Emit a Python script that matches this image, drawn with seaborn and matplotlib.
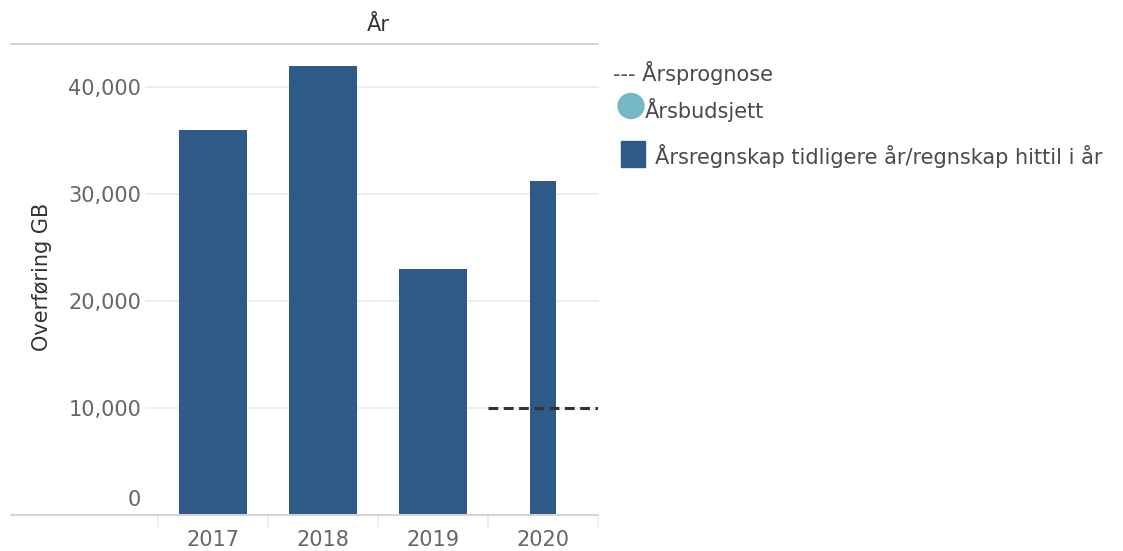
import matplotlib
matplotlib.use("Agg")
import matplotlib.pyplot as plt
import matplotlib.transforms as mtrans
import seaborn as sns
import pandas as pd
from matplotlib.patches import Rectangle, Ellipse

# ---- data ----
years = ["2017", "2018", "2019", "2020"]
actual = [36000, 42000, 23000, 31200]
forecast_year = "2020"
forecast_value = 10000
y_ticks = [0, 10000, 20000, 30000, 40000]
title = "År"
y_label = "Overføring GB"
legend_labels = ["--- Årsprognose", "Årsbudsjett",
                 "Årsregnskap tidligere år/regnskap hittil i år"]

BAR = "#2E5A87"
TEAL = "#76B7C4"
TXT = "#666666"
DARK = "#4A4A4A"
GRID = "#EBEBEB"
AXL = "#D4D4D4"
FS = 15

sns.set_theme(style="white")
plt.rcParams["font.family"] = ["DejaVu Sans"]

W, H = 1123, 551
fig = plt.figure(figsize=(W / 100, H / 100), dpi=100)
L, R, T, B = 158, 598, 44, 515
ax = fig.add_axes([L / W, 1 - B / H, (R - L) / W, (B - T) / H])

df = pd.DataFrame({"year": years, "value": actual})
past = df[df["year"] != forecast_year]
cur = df[df["year"] == forecast_year]
sns.barplot(data=past, x="year", y="value", order=years, color=BAR,
            width=0.61, saturation=1, ax=ax, zorder=2)
sns.barplot(data=cur, x="year", y="value", order=years, color=BAR,
            width=0.23, saturation=1, ax=ax, zorder=2)
for p in ax.patches:
    p.set_edgecolor("none")

fi = years.index(forecast_year)
ax.hlines(forecast_value, fi - 0.5, fi + 0.5, colors="#333333",
          linestyles=(0, (3.2, 1.8)), linewidth=2.2, zorder=4)

ax.set_xlim(-0.5, len(years) - 0.5)
ax.set_ylim(0, (B - T) / ((B - 408) / 10000))
ax.set_yticks(y_ticks)
ax.set_yticklabels([f"{v:,}" for v in y_ticks])
ax.tick_params(axis="both", length=0, labelsize=FS, labelcolor=TXT)
ax.tick_params(axis="y", pad=12)
ax.tick_params(axis="x", pad=11)
ax.set_xlabel("")
ax.set_ylabel("")
for s in ax.spines.values():
    s.set_visible(False)

# lift the "0" label above the axis line, as in the reference
fig.canvas.draw()
zero_lbl = ax.get_yticklabels()[0]
zero_lbl.set_transform(zero_lbl.get_transform() +
                       mtrans.ScaledTranslation(0, 17 / 100, fig.dpi_scale_trans))

gx0 = (146 - L) / (R - L)
lx0 = (11 - L) / (R - L)
for v in y_ticks[1:]:
    ax.axhline(v, xmin=gx0, xmax=1, color=GRID, lw=1.2, zorder=1, clip_on=False)
ax.axhline(0, xmin=lx0, xmax=1, color=AXL, lw=1.5, zorder=3, clip_on=False)
ax.axhline(ax.get_ylim()[1], xmin=lx0, xmax=1, color=AXL, lw=1.5, zorder=3, clip_on=False)
for i in range(len(years) + 1):
    ax.plot([i - 0.5, i - 0.5], [0, -0.025], transform=ax.get_xaxis_transform(),
            color=GRID, lw=1.2, clip_on=False)

fig.text((L + R) / 2 / W, 1 - 25 / H, title, ha="center", va="center",
         fontsize=FS, color="#333333")
fig.text(42 / W, 1 - 277 / H, y_label, rotation=90, ha="center", va="center",
         fontsize=FS, color="#333333")

# legend
fig.text(613 / W, 1 - 73 / H, legend_labels[0], ha="left", va="center",
         fontsize=FS, color=DARK)
fig.patches.append(Ellipse((631 / W, 1 - 106 / H), 26 / W, 25 / H,
                           transform=fig.transFigure, color=TEAL))
fig.text(645 / W, 1 - 110 / H, legend_labels[1], ha="left", va="center",
         fontsize=FS, color=DARK)
fig.patches.append(Rectangle((621 / W, 1 - 167 / H), 24 / W, 26 / H,
                             transform=fig.transFigure, color=BAR))
fig.text(655 / W, 1 - 156 / H, legend_labels[2], ha="left", va="center",
         fontsize=FS, color=DARK)

fig.savefig("out.png", dpi=100, facecolor="white")
